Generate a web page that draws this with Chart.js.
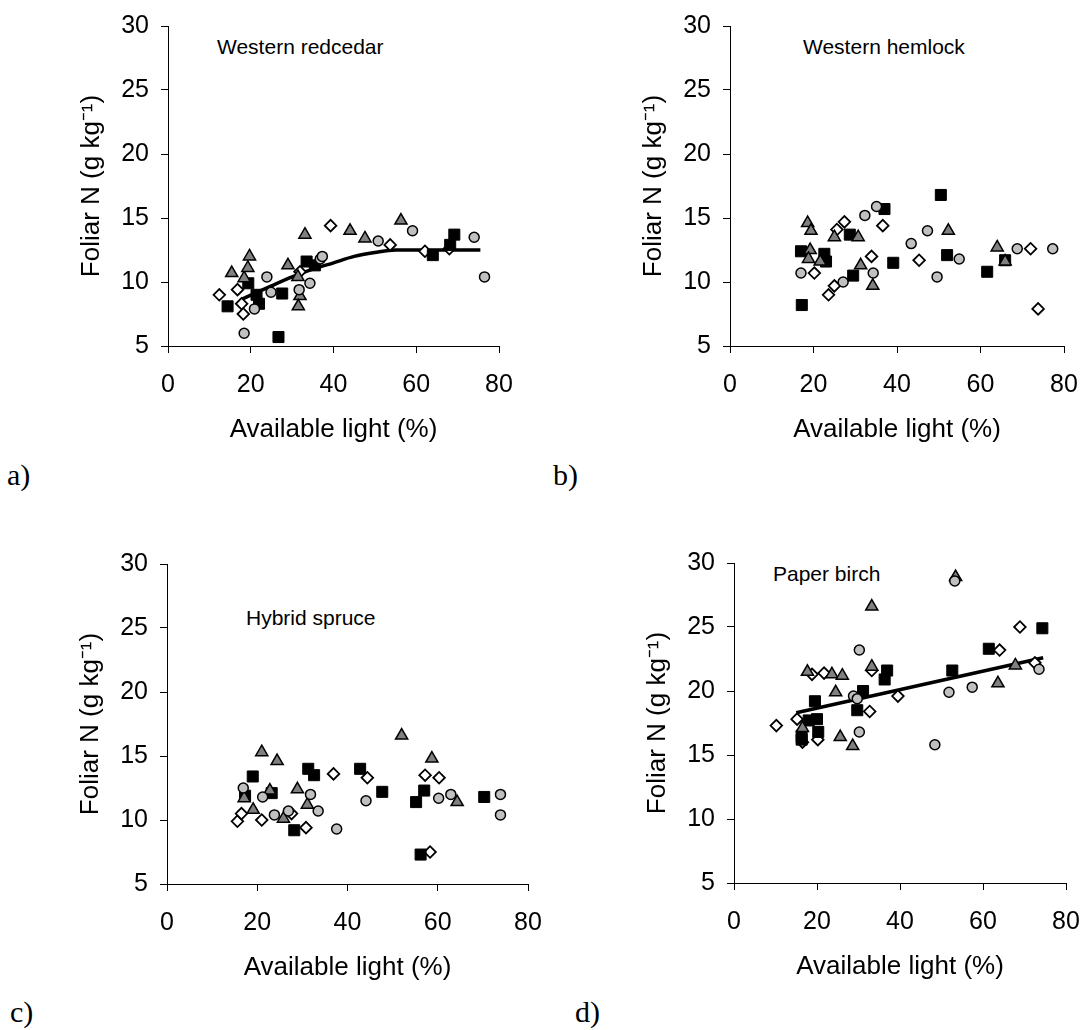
<!DOCTYPE html>
<html>
<head>
  <title>Foliar N vs available light</title>
  <script src="https://cdn.jsdelivr.net/npm/chart.js"></script>
  <style>
    body { margin: 0; background: #fff; }
    #page { position: relative; width: 1084px; height: 1030px; overflow: hidden; background: #fff;
            font-family: "Liberation Sans", Arial, sans-serif; color: #000; }
    #page canvas { position: absolute; }
    .species { position: absolute; font-size: 21px; line-height: 21px; white-space: nowrap; }
    .tag { position: absolute; font-family: "Liberation Serif", "Times New Roman", serif; font-size: 30px; line-height: 30px; }
  </style>
</head>
<body>
  <div id="page">
    <div class="species" style="left:217px; top:36px;">Western redcedar</div>
    <div class="species" style="left:803px; top:36px;">Western hemlock</div>
    <div class="species" style="left:246px; top:607px;">Hybrid spruce</div>
    <div class="species" style="left:773px; top:563px;">Paper birch</div>
    <div class="tag" style="left:7px; top:460px;">a)</div>
    <div class="tag" style="left:553px; top:460px;">b)</div>
    <div class="tag" style="left:10px; top:997px;">c)</div>
    <div class="tag" style="left:575px; top:997px;">d)</div>
  </div>

  <script>
    // axis ticks shared by all four panels
    const xTicks = [0, 20, 40, 60, 80];
    const yTicks = [5, 10, 15, 20, 25, 30];

    // a) Western redcedar  [available light %, foliar N g/kg]
    const cedarSquares = [[14.4, 8.1], [19.4, 9.9], [21.4, 9.0], [22.0, 8.3], [26.7, 5.7], [27.6, 9.1],
      [33.5, 11.6], [35.5, 11.3], [64.0, 12.1], [68.2, 12.9], [69.2, 13.7]];
    const cedarDiamonds = [[12.4, 9.0], [16.8, 9.4], [17.8, 8.3], [18.2, 7.5], [31.9, 10.8], [39.3, 14.4],
      [53.7, 12.9], [62.1, 12.4], [68.0, 12.6]];
    const cedarCircles = [[18.4, 6.0], [20.9, 7.9], [23.9, 10.4], [24.9, 9.2], [31.7, 9.4], [34.3, 9.9],
      [36.8, 11.8], [37.3, 12.0], [50.8, 13.2], [59.1, 14.0], [74.0, 13.5], [76.5, 10.4]];
    const cedarTriangles = [[15.4, 10.7], [18.4, 10.3], [19.3, 11.1], [19.7, 12.0], [29.0, 11.3], [31.4, 10.4],
      [31.9, 8.9], [31.5, 8.1], [33.1, 13.7], [44.0, 14.0], [47.6, 13.4], [56.3, 14.8]];
    const cedarFit = [[17.5, 8.6], [25, 9.7], [30, 10.4], [35, 11.0], [40, 11.5], [45, 12.0], [50, 12.3],
      [55, 12.5], [75.5, 12.5]];

    // b) Western hemlock
    const hemlockSquares = [[17.0, 12.4], [17.2, 8.2], [22.6, 12.2], [23.0, 11.6], [28.7, 13.7], [29.5, 10.5],
      [37.0, 15.7], [39.1, 11.5], [50.5, 16.8], [52.0, 12.1], [61.6, 10.8], [65.9, 11.7]];
    const hemlockDiamonds = [[20.2, 10.7], [23.6, 9.0], [25.0, 9.7], [25.6, 14.1], [27.4, 14.7], [33.9, 12.0],
      [36.6, 14.4], [45.3, 11.7], [72.0, 12.6], [73.8, 7.9]];
    const hemlockCircles = [[17.0, 10.7], [27.1, 10.0], [32.3, 15.2], [34.3, 10.7], [35.1, 15.9], [43.4, 13.0],
      [47.3, 14.0], [49.6, 10.4], [54.9, 11.8], [68.8, 12.6], [77.3, 12.6]];
    const hemlockTriangles = [[18.6, 14.6], [19.4, 14.0], [19.2, 12.5], [18.8, 11.8], [21.6, 11.6], [25.0, 13.5],
      [30.7, 13.5], [31.3, 11.3], [34.2, 9.7], [52.3, 14.0], [64.0, 12.7], [65.9, 11.6]];

    // c) Hybrid spruce
    const spruceSquares = [[17.3, 11.9], [19.0, 13.4], [23.2, 12.1], [28.2, 9.2], [31.3, 14.0], [32.6, 13.5],
      [42.8, 14.0], [47.7, 12.2], [55.2, 11.4], [56.2, 7.3], [57.0, 12.3], [70.3, 11.8]];
    const spruceDiamonds = [[15.6, 9.9], [16.5, 10.5], [21.0, 10.0], [27.6, 10.5], [30.8, 9.4], [36.9, 13.6],
      [44.4, 13.3], [57.2, 13.5], [58.3, 7.5], [60.3, 13.3]];
    const spruceCircles = [[16.9, 12.5], [21.2, 11.8], [23.8, 10.4], [26.9, 10.7], [31.8, 12.0], [33.5, 10.7],
      [37.6, 9.3], [44.1, 11.5], [60.2, 11.7], [62.9, 12.0], [73.9, 12.0], [73.9, 10.4]];
    const spruceTriangles = [[17.1, 11.7], [19.1, 10.8], [21.0, 15.3], [22.8, 12.3], [24.4, 14.6], [25.8, 10.1],
      [28.9, 12.4], [31.1, 11.2], [52.0, 16.6], [58.7, 14.8], [64.3, 11.4]];

    // d) Paper birch
    const birchSquares = [[16.3, 16.2], [16.3, 16.5], [18.0, 17.7], [19.5, 19.2], [20.0, 17.8], [20.3, 16.8],
      [29.7, 18.5], [31.1, 20.0], [36.3, 20.9], [36.9, 21.6], [52.6, 21.6], [61.4, 23.3], [74.3, 24.9]];
    const birchDiamonds = [[10.2, 17.3], [15.2, 17.8], [16.5, 16.0], [18.8, 21.3], [20.2, 16.2], [21.7, 21.4],
      [32.7, 18.4], [33.2, 21.6], [39.5, 19.6], [64.0, 23.2], [68.9, 25.0], [72.5, 22.2]];
    const birchCircles = [[28.8, 19.6], [29.7, 19.4], [30.2, 23.2], [30.2, 16.8], [48.4, 15.8], [51.8, 19.9],
      [53.2, 28.6], [57.4, 20.3], [73.5, 21.7]];
    const birchTriangles = [[16.5, 17.1], [17.7, 21.5], [23.6, 21.3], [24.5, 19.9], [25.6, 16.4], [26.1, 21.2],
      [28.6, 15.7], [33.2, 26.6], [33.2, 21.9], [53.4, 28.9], [63.6, 20.6], [67.8, 22.0]];
    const birchFit = [[15, 18.3], [74.5, 22.6]];

    Chart.defaults.font.family = '"Liberation Sans", Arial, sans-serif';
    Chart.defaults.color = '#000';

    const page = document.getElementById('page');
    const toPts = arr => arr.map(([x, y]) => ({ x, y }));

    // plot area of each panel in page pixels: [left, top, right, bottom]
    const panels = [
      { area: [168, 26, 499, 346], sq: cedarSquares, di: cedarDiamonds, ci: cedarCircles, tr: cedarTriangles, fit: cedarFit },
      { area: [730, 26, 1064, 346], sq: hemlockSquares, di: hemlockDiamonds, ci: hemlockCircles, tr: hemlockTriangles, fit: null },
      { area: [167, 564, 528, 884], sq: spruceSquares, di: spruceDiamonds, ci: spruceCircles, tr: spruceTriangles, fit: null },
      { area: [734, 563, 1066, 883], sq: birchSquares, di: birchDiamonds, ci: birchCircles, tr: birchTriangles, fit: birchFit }
    ];

    const Y_W = 100, X_H = 100, PAD_T = 20, PAD_R = 24;

    function axisGrid() {
      return { drawOnChartArea: false, drawTicks: true, tickLength: 7, tickColor: '#000', tickWidth: 1 };
    }

    function drawPanel(p) {
      const [l, t, r, b] = p.area;
      const cv = document.createElement('canvas');
      const w = (r - l) + Y_W + PAD_R;
      const h = (b - t) + PAD_T + X_H;
      cv.width = w; cv.height = h;
      cv.style.width = w + 'px'; cv.style.height = h + 'px';
      cv.style.left = (l - Y_W) + 'px';
      cv.style.top = (t - PAD_T) + 'px';
      page.appendChild(cv);

      const datasets = [
        { data: toPts(p.di), pointStyle: 'rectRot', pointRadius: 5.8, pointHoverRadius: 5.8,
          backgroundColor: '#fff', borderColor: '#000', borderWidth: 1.8, order: 4, clip: false },
        { data: toPts(p.sq), pointStyle: 'rect', pointRadius: 7.8, pointHoverRadius: 7.8,
          backgroundColor: '#000', borderColor: '#000', borderWidth: 1, order: 3, clip: false },
        { data: toPts(p.tr), pointStyle: 'triangle', pointRadius: 7, pointHoverRadius: 7,
          backgroundColor: '#808080', borderColor: '#000', borderWidth: 1.5, order: 2, clip: false },
        { data: toPts(p.ci), pointStyle: 'circle', pointRadius: 5, pointHoverRadius: 5,
          backgroundColor: '#c0c0c0', borderColor: '#000', borderWidth: 1.5, order: 1, clip: false }
      ];
      if (p.fit) {
        datasets.push({ data: toPts(p.fit), showLine: true, pointRadius: 0, borderColor: '#000',
          borderWidth: 3.5, cubicInterpolationMode: 'monotone', fill: false, order: 5, clip: false });
      }

      new Chart(cv, {
        type: 'scatter',
        data: { datasets },
        options: {
          responsive: false,
          animation: false,
          events: [],
          layout: { padding: { left: 0, top: PAD_T, right: PAD_R, bottom: 0 } },
          plugins: { legend: { display: false }, tooltip: { enabled: false } },
          scales: {
            x: {
              type: 'linear', min: 0, max: 80,
              afterBuildTicks: s => { s.ticks = xTicks.map(v => ({ value: v })); },
              afterFit: s => { s.height = X_H; s.paddingLeft = 0; s.paddingRight = 0; },
              grid: axisGrid(),
              border: { color: '#000', width: 1 },
              ticks: { color: '#000', font: { size: 25 }, padding: 17, maxRotation: 0, autoSkip: false },
              title: { display: true, text: 'Available light (%)', color: '#000', font: { size: 26 },
                padding: { top: 0, bottom: 1 } }
            },
            y: {
              type: 'linear', min: 5, max: 30,
              afterBuildTicks: s => { s.ticks = yTicks.map(v => ({ value: v })); },
              afterFit: s => { s.width = Y_W; s.paddingTop = 0; s.paddingBottom = 0; },
              grid: axisGrid(),
              border: { color: '#000', width: 1 },
              ticks: { color: '#000', font: { size: 25 }, padding: 12, autoSkip: false },
              title: { display: true, text: 'Foliar N (g kg⁻¹)', color: '#000', font: { size: 26 },
                padding: { top: 8, bottom: 0 } }
            }
          }
        }
      });
    }

    panels.forEach(drawPanel);
  </script>
</body>
</html>
